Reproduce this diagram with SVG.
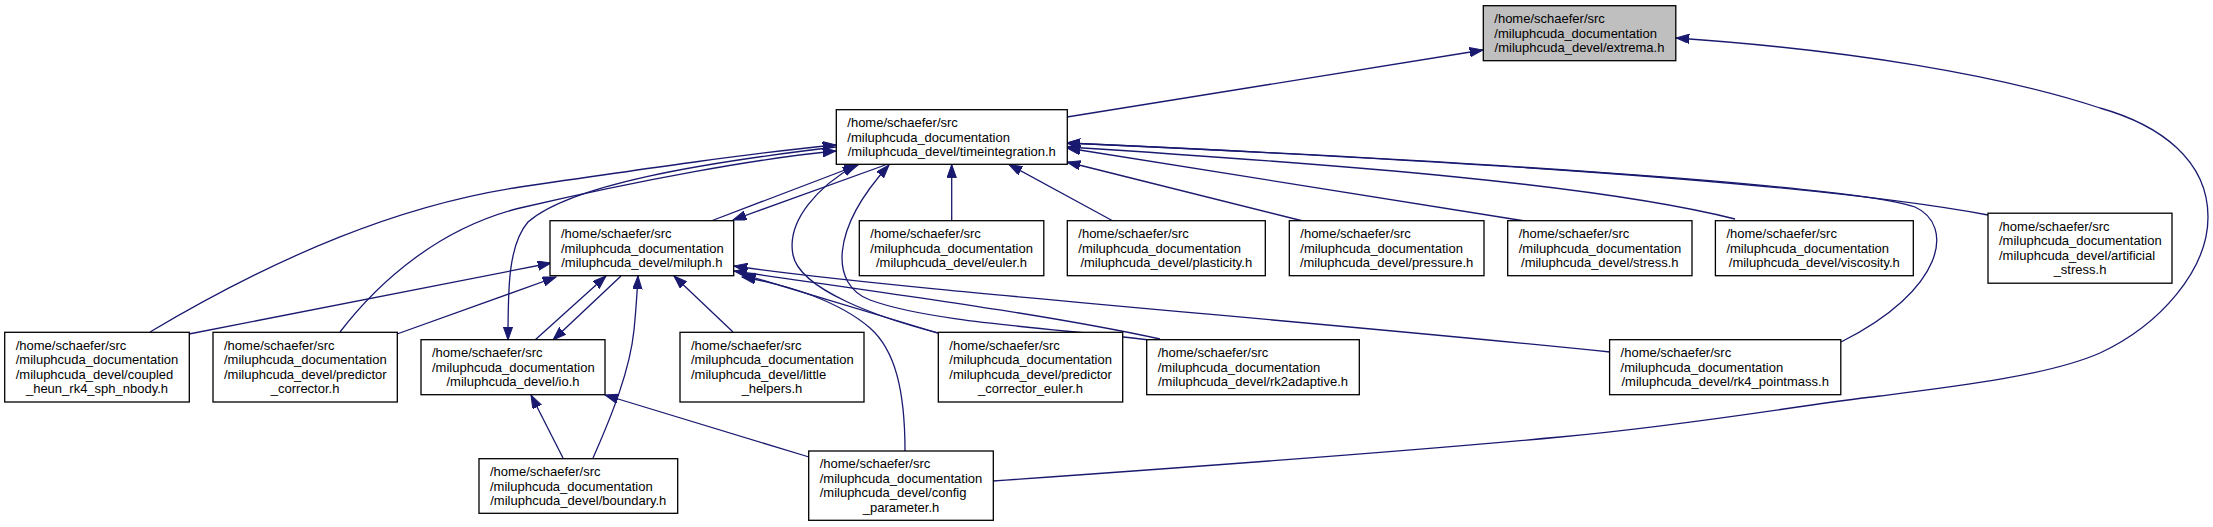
<svg xmlns="http://www.w3.org/2000/svg" width="2213" height="527" viewBox="0 0 2213 527">
<style>
.box{fill:#ffffff;stroke:#000000;stroke-width:1.3}
.root{fill:#bfbfbf;stroke:#000000;stroke-width:1.3}
text{font-family:"Liberation Sans",Arial,Helvetica,sans-serif;font-size:13px;fill:#000000}
.c{text-anchor:middle}
.e{fill:none;stroke:#191970;stroke-width:1.3;marker-end:url(#arr)}
</style>
<defs>
<marker id="arr" markerUnits="userSpaceOnUse" markerWidth="14" markerHeight="10" viewBox="0 0 14 10" refX="13.3" refY="4.7" orient="auto">
<path d="M0,0 L13.3,4.7 L0,9.4 z" fill="#191970" stroke="#191970" stroke-width="1"/>
</marker>
</defs>
<rect width="2213" height="527" fill="#ffffff"/>
<g id="edges">
<path class="e" d="M1067,117 L1483,50"/>
<path class="e" d="M993,481 C1150,470 1400,452 1560,437 C1700,424 1800,405 1880,396 C1960,386 2050,375 2100,353 C2160,325 2208,270 2208,217 C2208,160 2160,125 2100,108 C2000,75 1850,50 1676,38"/>
<path class="e" d="M711,221 L858,165"/>
<path class="e" d="M888,164 L733,220"/>
<path class="e" d="M150,332 C280,255 400,205 520,187 C650,168 760,152 836,145"/>
<path class="e" d="M340,332 C380,280 440,228 520,208 C640,180 760,158 836,151"/>
<path class="e" d="M836,147 C700,163 570,185 528,222 C508,245 508,290 508,340"/>
<path class="e" d="M189,334 L551,263"/>
<path class="e" d="M397,334 L556,277"/>
<path class="e" d="M535,340 L606,276"/>
<path class="e" d="M621,276 L553,340"/>
<path class="e" d="M563,458 L531,395"/>
<path class="e" d="M593,458 C612,415 630,370 634,330 C636,310 637,295 638,276"/>
<path class="e" d="M733,332 L674,276"/>
<path class="e" d="M809,457 L605,395"/>
<path class="e" d="M905,451 C905,390 895,350 870,328 C840,302 790,285 742,277"/>
<path class="e" d="M938,333 L742,274"/>
<path class="e" d="M938,333 C880,318 800,290 793,255 C786,220 820,185 856,165"/>
<path class="e" d="M1150,340 C1050,328 930,322 870,300 C830,285 830,230 889,165"/>
<path class="e" d="M1160,339 C1050,315 900,295 734,271"/>
<path class="e" d="M1610,352 C1300,320 900,290 734,266"/>
<path class="e" d="M1841,342 C1945,290 1955,225 1915,207 C1850,185 1450,160 1067,143"/>
<path class="e" d="M1988,215 C1800,180 1400,158 1067,143"/>
<path class="e" d="M1735,219 C1600,185 1350,165 1067,147"/>
<path class="e" d="M1525,221 L1067,148"/>
<path class="e" d="M1303,221 L1067,162"/>
<path class="e" d="M1113,221 L1009,164.5"/>
<path class="e" d="M951.7,221 L951.7,164.5"/>
</g>
<g id="n_extrema"><rect class="root" x="1483.3" y="5.7" width="192.5" height="55"/>
<text x="1494.3" y="23">/home/schaefer/src</text><text x="1494.3" y="37.5">/miluphcuda_documentation</text><text class="c" x="1579.5" y="52">/miluphcuda_devel/extrema.h</text></g>
<g id="n_timeintegration"><rect class="box" x="836.3" y="109.7" width="231" height="54.6"/>
<text x="847.3" y="127">/home/schaefer/src</text><text x="847.3" y="141.5">/miluphcuda_documentation</text><text class="c" x="951.8" y="156">/miluphcuda_devel/timeintegration.h</text></g>
<g id="n_miluph"><rect class="box" x="550" y="220.7" width="183.7" height="55"/>
<text x="561" y="238">/home/schaefer/src</text><text x="561" y="252.5">/miluphcuda_documentation</text><text class="c" x="641.8" y="267">/miluphcuda_devel/miluph.h</text></g>
<g id="n_euler"><rect class="box" x="859.3" y="220.7" width="184.5" height="55"/>
<text x="870.3" y="238">/home/schaefer/src</text><text x="870.3" y="252.5">/miluphcuda_documentation</text><text class="c" x="951.5" y="267">/miluphcuda_devel/euler.h</text></g>
<g id="n_plasticity"><rect class="box" x="1067.3" y="220.7" width="198" height="55"/>
<text x="1078.3" y="238">/home/schaefer/src</text><text x="1078.3" y="252.5">/miluphcuda_documentation</text><text class="c" x="1166.3" y="267">/miluphcuda_devel/plasticity.h</text></g>
<g id="n_pressure"><rect class="box" x="1289.3" y="220.7" width="194.7" height="55"/>
<text x="1300.3" y="238">/home/schaefer/src</text><text x="1300.3" y="252.5">/miluphcuda_documentation</text><text class="c" x="1386.6" y="267">/miluphcuda_devel/pressure.h</text></g>
<g id="n_stress"><rect class="box" x="1507.7" y="220.7" width="184.3" height="55"/>
<text x="1518.7" y="238">/home/schaefer/src</text><text x="1518.7" y="252.5">/miluphcuda_documentation</text><text class="c" x="1599.8" y="267">/miluphcuda_devel/stress.h</text></g>
<g id="n_viscosity"><rect class="box" x="1715.4" y="220.7" width="197.9" height="55"/>
<text x="1726.4" y="238">/home/schaefer/src</text><text x="1726.4" y="252.5">/miluphcuda_documentation</text><text class="c" x="1814.3" y="267">/miluphcuda_devel/viscosity.h</text></g>
<g id="n_artificial_stress"><rect class="box" x="1988" y="213.2" width="184" height="70"/>
<text x="1999" y="230.6">/home/schaefer/src</text><text x="1999" y="245.1">/miluphcuda_documentation</text><text x="1999" y="259.6">/miluphcuda_devel/artificial</text><text class="c" x="2080" y="274.1">_stress.h</text></g>
<g id="n_coupled"><rect class="box" x="4.7" y="332.3" width="184.6" height="69.7"/>
<text x="15.7" y="349.7">/home/schaefer/src</text><text x="15.7" y="364.2">/miluphcuda_documentation</text><text x="15.7" y="378.7">/miluphcuda_devel/coupled</text><text class="c" x="97" y="393.2">_heun_rk4_sph_nbody.h</text></g>
<g id="n_predictor_corrector"><rect class="box" x="213" y="332.3" width="184.3" height="69.7"/>
<text x="224" y="349.7">/home/schaefer/src</text><text x="224" y="364.2">/miluphcuda_documentation</text><text x="224" y="378.7">/miluphcuda_devel/predictor</text><text class="c" x="305.1" y="393.2">_corrector.h</text></g>
<g id="n_io"><rect class="box" x="421" y="339.7" width="184" height="55"/>
<text x="432" y="357">/home/schaefer/src</text><text x="432" y="371.5">/miluphcuda_documentation</text><text class="c" x="513" y="386">/miluphcuda_devel/io.h</text></g>
<g id="n_little_helpers"><rect class="box" x="680" y="332.3" width="184" height="69.7"/>
<text x="691" y="349.7">/home/schaefer/src</text><text x="691" y="364.2">/miluphcuda_documentation</text><text x="691" y="378.7">/miluphcuda_devel/little</text><text class="c" x="772" y="393.2">_helpers.h</text></g>
<g id="n_predictor_corrector_euler"><rect class="box" x="938.3" y="332.3" width="184.4" height="69.7"/>
<text x="949.3" y="349.7">/home/schaefer/src</text><text x="949.3" y="364.2">/miluphcuda_documentation</text><text x="949.3" y="378.7">/miluphcuda_devel/predictor</text><text class="c" x="1030.5" y="393.2">_corrector_euler.h</text></g>
<g id="n_rk2adaptive"><rect class="box" x="1146.7" y="339.7" width="212.6" height="55"/>
<text x="1157.7" y="357">/home/schaefer/src</text><text x="1157.7" y="371.5">/miluphcuda_documentation</text><text class="c" x="1253" y="386">/miluphcuda_devel/rk2adaptive.h</text></g>
<g id="n_rk4_pointmass"><rect class="box" x="1609.6" y="339.7" width="231.2" height="55"/>
<text x="1620.6" y="357">/home/schaefer/src</text><text x="1620.6" y="371.5">/miluphcuda_documentation</text><text class="c" x="1725.2" y="386">/miluphcuda_devel/rk4_pointmass.h</text></g>
<g id="n_boundary"><rect class="box" x="479" y="458.7" width="198.7" height="54.6"/>
<text x="490" y="476">/home/schaefer/src</text><text x="490" y="490.5">/miluphcuda_documentation</text><text class="c" x="578.3" y="505">/miluphcuda_devel/boundary.h</text></g>
<g id="n_config_parameter"><rect class="box" x="808.7" y="451" width="184.6" height="69.3"/>
<text x="819.7" y="468.4">/home/schaefer/src</text><text x="819.7" y="482.9">/miluphcuda_documentation</text><text x="819.7" y="497.4">/miluphcuda_devel/config</text><text class="c" x="901" y="511.9">_parameter.h</text></g>
</svg>
